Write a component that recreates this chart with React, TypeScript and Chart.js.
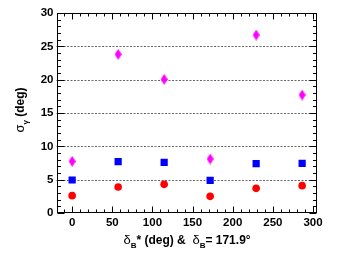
import React, { useEffect, useRef } from 'react';
import { Chart, registerables } from 'chart.js';
Chart.register(...registerables);

const deltaStar = [0, 57.3, 114.6, 171.9, 229.2, 286.5];
const sigmaRed = [2.6, 3.9, 4.3, 2.5, 3.7, 4.1];
const sigmaBlue = [4.95, 7.7, 7.6, 4.9, 7.4, 7.45];
const sigmaMagenta = [7.75, 23.8, 20.05, 8.1, 26.7, 17.7];
const xTickValues = [0, 50, 100, 150, 200, 250, 300];
const yTickValues = [0, 5, 10, 15, 20, 25, 30];
const gridValues = [5, 10, 15, 20, 25];
const xMin = -19.5, xMax = 305, yMin = 0, yMax = 30;

const FONT = '"Liberation Sans", Arial, sans-serif';

type Part = { t: string; sub?: boolean; greek?: boolean };

function drawRich(ctx: CanvasRenderingContext2D, parts: Part[], x: number, y: number, size: number, rotate: boolean) {
  const fontFor = (p: Part) => {
    if (p.sub) return `bold ${Math.round(size * 0.7)}px ${FONT}`;
    if (p.greek) return `${size + 1}px ${FONT}`;
    return `bold ${size}px ${FONT}`;
  };
  ctx.save();
  let total = 0;
  const widths: number[] = [];
  parts.forEach((p) => {
    ctx.font = fontFor(p);
    const w = ctx.measureText(p.t).width;
    widths.push(w);
    total += w;
  });
  ctx.translate(x, y);
  if (rotate) ctx.rotate(-Math.PI / 2);
  ctx.fillStyle = '#000';
  ctx.textBaseline = 'alphabetic';
  ctx.textAlign = 'left';
  let cx = -total / 2;
  parts.forEach((p, i) => {
    ctx.font = fontFor(p);
    ctx.fillText(p.t, cx, size * 0.36 + (p.sub ? size * 0.3 : 0));
    cx += widths[i];
  });
  ctx.restore();
}

const decorPlugin = {
  id: 'decor',
  beforeDatasetsDraw(chart: any) {
    const { ctx, chartArea } = chart;
    const y = chart.scales.y;
    ctx.save();
    ctx.strokeStyle = '#666';
    ctx.lineWidth = 1;
    ctx.setLineDash([2, 1.5]);
    gridValues.forEach((v) => {
      const py = Math.round(y.getPixelForValue(v)) + 0.5;
      ctx.beginPath();
      ctx.moveTo(chartArea.left, py);
      ctx.lineTo(chartArea.right, py);
      ctx.stroke();
    });
    ctx.restore();
  },
  afterDraw(chart: any) {
    const { ctx, chartArea } = chart;
    const xs = chart.scales.x;
    const ys = chart.scales.y;
    const L = Math.round(chartArea.left) + 0.5;
    const R = Math.round(chartArea.right) - 0.5;
    const T = Math.round(chartArea.top) + 0.5;
    const B = Math.round(chartArea.bottom) - 0.5;
    ctx.save();
    ctx.strokeStyle = '#000';
    ctx.lineWidth = 1;
    ctx.setLineDash([]);
    ctx.strokeRect(L, T, R - L, B - T);
    ctx.beginPath();
    for (let v = Math.ceil(xMin / 10) * 10; v <= xMax; v += 10) {
      const px = Math.round(xs.getPixelForValue(v)) + 0.5;
      const len = v % 50 === 0 ? 6 : 3;
      ctx.moveTo(px, B);
      ctx.lineTo(px, B - len);
      ctx.moveTo(px, T);
      ctx.lineTo(px, T + len);
    }
    for (let v = yMin; v <= yMax; v += 1) {
      const py = Math.round(ys.getPixelForValue(v)) + 0.5;
      const len = v % 5 === 0 ? 7 : 3.5;
      ctx.moveTo(L, py);
      ctx.lineTo(L + len, py);
      ctx.moveTo(R, py);
      ctx.lineTo(R - len, py);
    }
    ctx.stroke();
    ctx.restore();

    drawRich(ctx, [
      { t: 'σ', greek: true },
      { t: 'γ', sub: true },
      { t: ' (deg)' },
    ], 20, 110, 12, true);

    drawRich(ctx, [
      { t: 'δ', greek: true },
      { t: 'B', sub: true },
      { t: '* (deg) &  ' },
      { t: 'δ', greek: true },
      { t: 'B', sub: true },
      { t: '= 171.9°' },
    ], 187, 240, 12, false);
  },
};

function makeDiamond(color: string) {
  const c = document.createElement('canvas');
  c.width = 7;
  c.height = 11;
  const g = c.getContext('2d')!;
  g.fillStyle = color;
  g.beginPath();
  g.moveTo(3.5, 0);
  g.lineTo(7, 5.5);
  g.lineTo(3.5, 11);
  g.lineTo(0, 5.5);
  g.closePath();
  g.fill();
  return c;
}

export default function App() {
  const ref = useRef<HTMLCanvasElement>(null);
  useEffect(() => {
    const toPts = (vals: number[]) => vals.map((v, i) => ({ x: deltaStar[i], y: v }));
    const chart = new Chart(ref.current!, {
      type: 'scatter',
      data: {
        datasets: [
          {
            data: toPts(sigmaMagenta),
            pointStyle: makeDiamond('#ff00ff') as any,
            backgroundColor: '#ff00ff',
            borderColor: '#ff00ff',
            pointRadius: 5,
          },
          {
            data: toPts(sigmaBlue),
            pointStyle: 'rect',
            backgroundColor: '#0000ff',
            borderColor: '#0000ff',
            borderWidth: 0,
            pointRadius: 5.1,
          },
          {
            data: toPts(sigmaRed),
            pointStyle: 'circle',
            backgroundColor: '#ff0000',
            borderColor: '#ff0000',
            borderWidth: 0,
            pointRadius: 3.8,
          },
        ],
      },
      options: {
        responsive: false,
        animation: false,
        events: [],
        layout: { padding: { left: 0, top: 13, right: 36, bottom: 0 } },
        plugins: { legend: { display: false }, tooltip: { enabled: false } },
        scales: {
          x: {
            type: 'linear',
            min: xMin,
            max: xMax,
            afterBuildTicks: (s: any) => { s.ticks = xTickValues.map((v) => ({ value: v })); },
            afterFit: (s: any) => { s.height = 41; },
            grid: { display: false, drawTicks: false },
            border: { display: false },
            ticks: {
              color: '#000',
              padding: 3,
              maxRotation: 0,
              font: { family: FONT, size: 11.5, weight: 'bold' },
            },
          },
          y: {
            type: 'linear',
            min: yMin,
            max: yMax,
            afterBuildTicks: (s: any) => { s.ticks = yTickValues.map((v) => ({ value: v })); },
            afterFit: (s: any) => { s.width = 56.5; },
            grid: { display: false, drawTicks: false },
            border: { display: false },
            ticks: {
              color: '#000',
              padding: 3,
              font: { family: FONT, size: 11.5, weight: 'bold' },
            },
          },
        },
      },
      plugins: [decorPlugin],
    } as any);
    return () => chart.destroy();
  }, []);
  return (
    <canvas
      ref={ref}
      width={353}
      height={254}
      style={{ position: 'absolute', left: 0, top: 0, width: 353, height: 254, background: '#fff' }}
    />
  );
}
